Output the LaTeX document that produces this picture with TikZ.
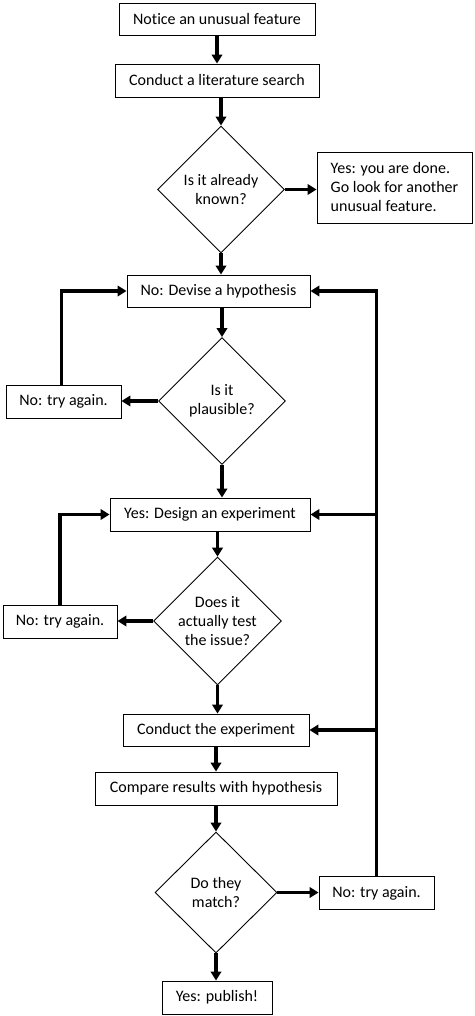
\documentclass[tikz,border=0pt]{standalone}
\usepackage{fontspec}
\setmainfont{Carlito}[Ligatures=NoCommon]
\usetikzlibrary{shapes.geometric,arrows.meta}
\begin{document}
\begin{tikzpicture}[x=1pt,y=-1pt,
  every node/.style={font=\fontsize{16}{19}\selectfont, inner sep=0pt},
  box/.style={draw, line width=0.9pt, rectangle, align=center},
  dia/.style={draw, line width=0.9pt, diamond, align=center, minimum width=127pt, minimum height=127pt},
  arr/.style={line width=3.2pt, -{Triangle[length=9pt,width=10.5pt]}}]
\useasboundingbox (0,0) rectangle (474,1016);
\node[box, minimum width=196pt, minimum height=32pt] (b1) at (217,19) {Notice an unusual feature};
\node[box, minimum width=204pt, minimum height=33pt] (b2) at (217,80.5) {Conduct a literature search};
\node[dia] (d1) at (221,189.5) {Is it already\\known?};
\node[box, minimum width=155pt, minimum height=71pt, align=left] (yes1) at (394.5,187.5) {Yes: you are done.\\Go look for another\\unusual feature.};
\node[box, minimum width=183pt, minimum height=32pt] (hyp) at (218.5,291) {No: Devise a hypothesis};
\node[dia] (d2) at (222,401) {Is it\\plausible?};
\node[box, minimum width=115pt, minimum height=33pt] (no1) at (63.5,401.5) {No: try again.};
\node[box, minimum width=200pt, minimum height=33pt] (des) at (210,514.5) {Yes: Design an experiment};
\node[dia, minimum height=126pt] (d3) at (217.5,621) {Does it\\actually test\\the issue?};
\node[box, minimum width=114pt, minimum height=33pt] (no2) at (60,621.5) {No: try again.};
\node[box, minimum width=186pt, minimum height=32pt] (exp) at (216,730) {Conduct the experiment};
\node[box, minimum width=242pt, minimum height=33pt] (cmp) at (216,788.5) {Compare results with hypothesis};
\node[dia, minimum width=122pt, minimum height=121pt] (d4) at (216,892.5) {Do they\\match?};
\node[box, minimum width=115pt, minimum height=33pt] (no3) at (376.5,893) {No: try again.};
\node[box, minimum width=110pt, minimum height=33pt] (pub) at (217,997.5) {Yes: publish!};
% main column
\draw[arr] (b1.south) -- (b2.north);
\draw[arr] (d1.north |- b2.south) -- (d1.north);
\draw[arr] (d1.east) -- (d1.east -| yes1.west);
\draw[arr] (d1.south) -- (d1.south |- hyp.north);
\draw[arr] (d2.north |- hyp.south) -- (d2.north);
\draw[arr] (d2.west) -- (d2.west -| no1.east);
\draw[arr] (d2.south) -- (d2.south |- des.north);
\draw[arr] (d3.north |- des.south) -- (d3.north);
\draw[arr] (d3.west) -- (d3.west -| no2.east);
\draw[arr] (d3.south) -- (d3.south |- exp.north);
\draw[arr] (exp.south) -- (cmp.north);
\draw[arr] (cmp.south) -- (d4.north);
\draw[arr] (d4.east) -- (d4.east -| no3.west);
\draw[arr] (d4.south) -- (d4.south |- pub.north);
% loops
\draw[arr] ([xshift=-2pt]no1.north) |- (hyp.west);
\draw[arr] (no2.north) |- (des.west);
\draw[arr] (no3.north) |- (hyp.east);
\draw[arr] (no3.north |- des.east) -- (des.east);
\draw[arr] (no3.north |- exp.east) -- (exp.east);
\end{tikzpicture}
\end{document}
